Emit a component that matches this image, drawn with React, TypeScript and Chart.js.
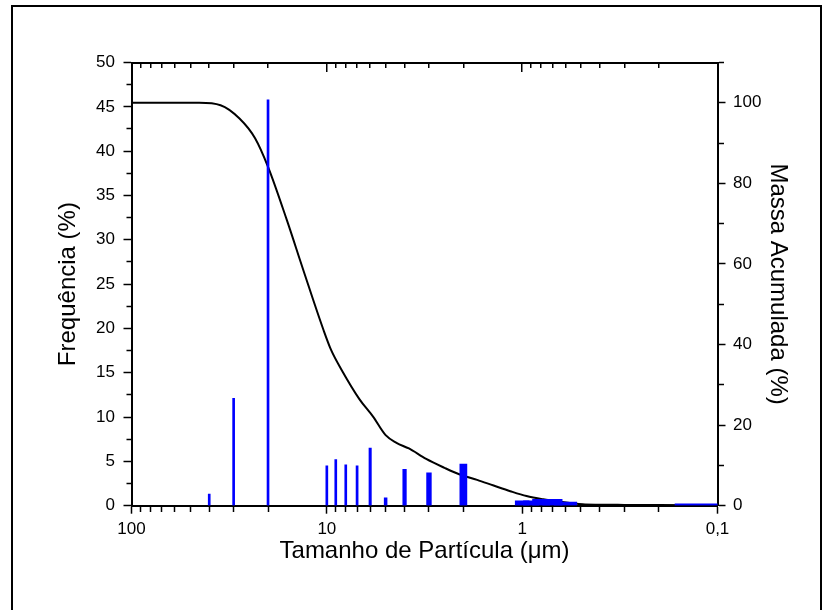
import React, { useEffect, useRef } from 'react';
import { Chart, registerables } from 'chart.js';

Chart.register(...registerables);

// ---- data ----
const BAR_SIZES = [40, 30, 20, 10, 9, 8, 7, 6, 5, 4, 3, 2, 1, 0.9, 0.8, 0.7, 0.6, 0.08];
const BAR_FREQ = [1.3, 12.1, 45.8, 4.5, 5.2, 4.6, 4.5, 6.5, 0.9, 4.1, 3.7, 4.7, 0.55, 0.55, 0.72, 0.72, 0.4, 0.2];

const CUM_SIZES = [100, 60, 45, 35, 28, 23.3, 20, 16, 13.2, 10.4, 9.5, 8.4, 6.8, 5.8, 5.0, 4.4, 3.8, 3.1, 2.5, 2.1, 1.7, 1.4, 1.15, 0.95, 0.78, 0.64, 0.57, 0.49, 0.4, 0.3, 0.2, 0.1];
const CUM_MASS = [100, 100, 100, 99.4, 96.1, 91.2, 84.1, 70.8, 58.5, 43.6, 38.6, 33.7, 26.4, 22.1, 17.5, 15.6, 14.2, 11.6, 9.4, 7.8, 6.4, 5.0, 3.6, 2.4, 1.6, 1.0, 0.7, 0.35, 0.25, 0.2, 0.15, 0.1];

const X_MAJOR_VALUES = [100, 10, 1, 0.1];
const X_MAJOR_LABELS = ['100', '10', '1', '0,1'];
const X_DECADES = [0.1, 1, 10];

const X_TITLE = 'Tamanho de Partícula (μm)';
const Y_TITLE = 'Frequência (%)';
const Y2_TITLE = 'Massa Acumulada (%)';

const BAR_WIDTH_UM = 0.17; // column width in data units
const MIN_BAR_PX = 2;

const FONT = '"Liberation Sans", Arial, sans-serif';

const isMajor = (v: number) => Math.abs(Math.log10(v) - Math.round(Math.log10(v))) < 1e-6;

const allXTicks = () => {
  const out: number[] = [];
  X_DECADES.forEach((d) => {
    for (let m = 1; m < 10; m++) out.push(parseFloat((m * d).toPrecision(6)));
  });
  out.push(100);
  return out;
};

export default function App() {
  const ref = useRef<HTMLCanvasElement | null>(null);

  useEffect(() => {
    if (!ref.current) return;
    const tickFont = { family: FONT, size: 17 };
    const titleFont = { family: FONT, size: 24 };

    const barSets = BAR_SIZES.map((s, i) => ({
      type: 'bar' as const,
      label: 'f' + i,
      data: [{ x: s, y: BAR_FREQ[i] }],
      backgroundColor: '#0000ff',
      borderWidth: 0,
      grouped: false,
      barThickness: MIN_BAR_PX,
      xAxisID: 'x',
      yAxisID: 'y',
      order: 0,
      clip: 0,
    }));

    const lineSet = {
      type: 'line' as const,
      label: 'cum',
      data: CUM_SIZES.map((s, i) => ({ x: s, y: CUM_MASS[i] })),
      borderColor: '#000000',
      borderWidth: 2,
      pointRadius: 0,
      fill: false,
      cubicInterpolationMode: 'monotone' as const,
      xAxisID: 'x',
      yAxisID: 'y2',
      order: 1,
      clip: 0,
    };

    const chart = new Chart(ref.current, {
      type: 'bar',
      data: { datasets: [...barSets, lineSet] as any },
      options: {
        responsive: false,
        animation: false,
        devicePixelRatio: 1,
        layout: { padding: { top: 62.5, left: 0, right: 0, bottom: 0 } },
        plugins: { legend: { display: false }, tooltip: { enabled: false } },
        scales: {
          x: {
            type: 'logarithmic',
            position: 'bottom',
            reverse: true,
            min: 0.1,
            max: 100,
            offset: false,
            afterBuildTicks: (s: any) => {
              s.ticks = allXTicks().map((v) => ({ value: v, major: isMajor(v) }));
            },
            afterFit: (s: any) => {
              s.height = 104.3;
            },
            ticks: {
              autoSkip: false,
              maxRotation: 0,
              color: '#000',
              font: tickFont,
              padding: 5,
              callback: (v: any) => {
                const idx = X_MAJOR_VALUES.findIndex((m) => Math.abs(m - Number(v)) < 1e-9);
                return idx >= 0 ? X_MAJOR_LABELS[idx] : '';
              },
            },
            grid: {
              offset: false,
              drawOnChartArea: false,
              drawTicks: true,
              tickLength: 8,
              tickWidth: 1.5,
              tickColor: '#000',
              tickBorderDash: (ctx: any) => (ctx.tick && !isMajor(ctx.tick.value) ? [5, 100] : []),
            },
            border: { display: true, color: '#000', width: 2 },
            title: {
              display: true,
              text: X_TITLE,
              color: '#000',
              font: titleFont,
              padding: { top: 0, bottom: 44 },
            },
          },
          xTop: {
            type: 'logarithmic',
            position: 'top',
            reverse: true,
            min: 0.1,
            max: 100,
            offset: false,
            afterBuildTicks: (s: any) => {
              s.ticks = X_MAJOR_VALUES.map((v) => ({ value: v }));
            },
            afterFit: (s: any) => {
              s.height = 0;
            },
            ticks: { display: false },
            grid: {
              offset: false,
              drawOnChartArea: true,
              drawTicks: false,
              color: '#000',
              lineWidth: 1.5,
            },
            border: { display: true, color: '#000', width: 2, dash: [8, 3000] },
          },
          xTopMinor: {
            type: 'logarithmic',
            position: 'top',
            reverse: true,
            min: 0.1,
            max: 100,
            offset: false,
            afterBuildTicks: (s: any) => {
              s.ticks = allXTicks()
                .filter((v) => !isMajor(v))
                .map((v) => ({ value: v }));
            },
            afterFit: (s: any) => {
              s.height = 0;
            },
            ticks: { display: false },
            grid: {
              offset: false,
              drawOnChartArea: true,
              drawTicks: false,
              color: '#000',
              lineWidth: 1.5,
            },
            border: { display: false, dash: [5, 3000] },
          },
          y: {
            type: 'linear',
            position: 'left',
            min: 0,
            max: 50,
            afterFit: (s: any) => {
              s.width = 131.5;
            },
            ticks: {
              stepSize: 2.5,
              autoSkip: false,
              color: '#000',
              font: tickFont,
              padding: 8.5,
              callback: (v: any) => (Number(v) % 5 === 0 ? String(v) : ''),
            },
            grid: {
              drawOnChartArea: false,
              drawTicks: true,
              tickLength: 8,
              tickWidth: 1.5,
              tickColor: '#000',
              tickBorderDash: (ctx: any) =>
                ctx.tick && ctx.tick.value % 5 !== 0 ? [0, 3, 5, 100] : [],
            },
            border: { display: true, color: '#000', width: 2 },
            title: {
              display: true,
              text: Y_TITLE,
              color: '#000',
              font: titleFont,
              padding: { top: 54, bottom: 0 },
            },
          },
          y2: {
            type: 'linear',
            position: 'right',
            min: 0,
            max: 110,
            afterFit: (s: any) => {
              s.width = 110.5;
            },
            ticks: {
              stepSize: 10,
              autoSkip: false,
              color: '#000',
              font: tickFont,
              padding: 7.5,
              callback: (v: any) => (Number(v) % 20 === 0 ? String(v) : ''),
            },
            grid: {
              drawOnChartArea: false,
              drawTicks: true,
              tickLength: 8,
              tickWidth: 1.5,
              tickColor: '#000',
              tickBorderDash: (ctx: any) =>
                ctx.tick && ctx.tick.value % 20 !== 0 ? [5, 100] : [],
            },
            border: { display: true, color: '#000', width: 2 },
            title: {
              display: true,
              text: Y2_TITLE,
              color: '#000',
              font: titleFont,
              padding: { top: 36, bottom: 0 },
            },
          },
        },
      } as any,
    });

    // bar thickness from a constant column width in data units, through the x scale
    const xs: any = chart.scales.x;
    chart.data.datasets.forEach((ds: any) => {
      if (ds.type !== 'bar') return;
      const s = ds.data[0].x;
      const half = Math.abs(xs.getPixelForValue(s) - xs.getPixelForValue(s + BAR_WIDTH_UM / 2));
      ds.barThickness = Math.max(MIN_BAR_PX, 2 * half);
    });
    chart.update();

    return () => chart.destroy();
  }, []);

  return (
    <div
      style={{
        position: 'fixed',
        left: 0,
        top: 0,
        width: 828,
        height: 610,
        overflow: 'hidden',
        background: '#fff',
      }}
    >
      <canvas ref={ref} width={828} height={610} style={{ position: 'absolute', left: 0, top: 0 }} />
      <div
        style={{
          position: 'absolute',
          left: 10.5,
          top: 4.5,
          width: 811.5,
          height: 640,
          border: '2px solid #000',
          boxSizing: 'border-box',
          pointerEvents: 'none',
        }}
      />
    </div>
  );
}
